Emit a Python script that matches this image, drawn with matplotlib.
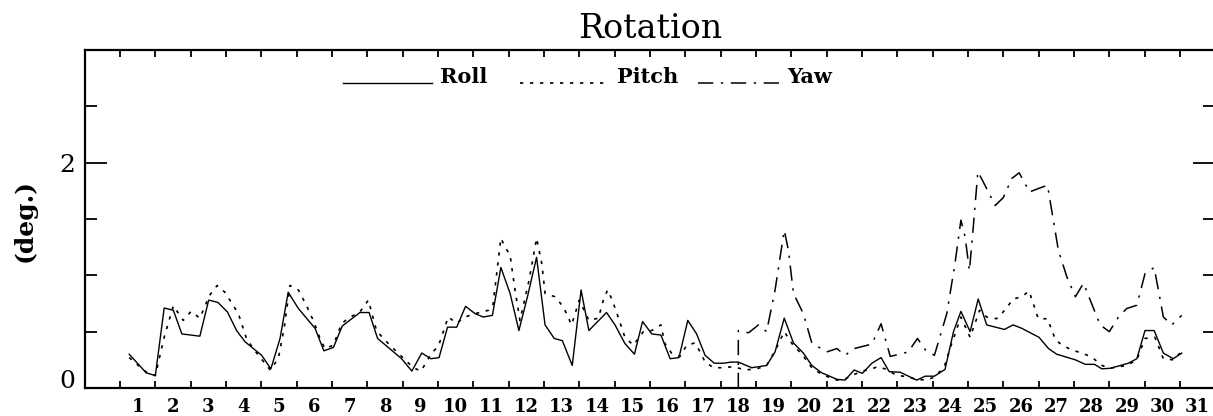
import numpy as np
import matplotlib
matplotlib.use("Agg")
import matplotlib.pyplot as plt

# readings taken off the plot: day of month vs rotation (deg.)
roll_day = [1.26, 1.74, 2.00, 2.25, 2.51, 2.75, 3.26, 3.51, 3.77, 4.04, 4.30, 4.54, 5.01,
            5.27, 5.53, 5.76, 6.05, 6.52, 6.77, 7.04, 7.29, 7.79, 8.05, 8.29, 8.97, 9.26,
            9.54, 9.80, 10.03, 10.27, 10.53, 10.78, 11.05, 11.28, 11.54, 11.78, 12.04, 12.29,
            12.54, 12.79, 13.03, 13.29, 13.52, 13.80, 14.05, 14.27, 14.77, 15.01, 15.29,
            15.56, 15.79, 16.05, 16.31, 16.57, 16.82, 17.07, 17.32, 17.56, 17.82, 18.08,
            18.29, 18.50, 18.88, 19.30, 19.54, 19.80, 20.06, 20.34, 20.58, 20.86, 21.29,
            21.52, 21.78, 22.01, 22.28, 22.54, 22.77, 23.08, 23.55, 23.79, 24.05, 24.35,
            24.59, 24.80, 25.06, 25.29, 25.53, 26.03, 26.28, 26.52, 27.01, 27.28, 27.51,
            28.04, 28.32, 28.58, 28.79, 29.02, 29.26, 29.54, 29.78, 30.01, 30.27, 30.53,
            30.81, 31.05]
roll_deg = [0.30, 0.135, 0.11, 0.71, 0.69, 0.48, 0.46, 0.78, 0.76, 0.675, 0.51, 0.41, 0.29,
            0.17, 0.44, 0.85, 0.705, 0.53, 0.33, 0.36, 0.55, 0.67, 0.67, 0.44, 0.26, 0.15,
            0.31, 0.26, 0.27, 0.54, 0.54, 0.725, 0.66, 0.63, 0.645, 1.07, 0.84, 0.51,
            0.82, 1.16, 0.56, 0.44, 0.42, 0.20, 0.87, 0.51, 0.67, 0.56, 0.395,
            0.30, 0.59, 0.48, 0.47, 0.26, 0.27, 0.60, 0.48, 0.29, 0.22, 0.22,
            0.23, 0.23, 0.18, 0.20, 0.32, 0.62, 0.40, 0.31, 0.20, 0.135, 0.077,
            0.07, 0.16, 0.13, 0.22, 0.27, 0.145, 0.14, 0.07, 0.105, 0.105, 0.165,
            0.50, 0.68, 0.50, 0.79, 0.56, 0.52, 0.56, 0.53, 0.45, 0.35, 0.30,
            0.25, 0.21, 0.21, 0.17, 0.175, 0.195, 0.22, 0.26, 0.51, 0.51, 0.31,
            0.26, 0.31]

pitch_day = [1.26, 1.52, 1.75, 2.00, 2.25, 2.51, 2.79, 3.01, 3.26, 3.53, 3.75, 3.97, 4.35,
             4.58, 4.77, 5.25, 5.48, 5.65, 5.81, 6.05, 6.28, 6.47, 6.66, 6.80, 7.04, 7.27,
             7.46, 7.79, 8.03, 8.26, 8.45, 8.69, 9.07, 9.30, 9.52, 9.65, 9.82, 10.01, 10.29,
             10.53, 10.76, 11.05, 11.43, 11.55, 11.78, 11.90, 12.04, 12.18, 12.32, 12.58,
             12.79, 12.94, 13.03, 13.31, 13.55, 13.78, 14.00, 14.27, 14.54, 14.68, 14.80,
             14.92, 15.10, 15.29, 15.53, 15.81, 16.05, 16.31, 16.42, 16.61, 16.85, 17.04,
             17.27, 17.42, 17.56, 17.80, 18.08, 18.36, 18.69, 19.02, 19.30, 19.54, 19.80,
             20.05, 20.30, 20.58, 20.86, 21.29, 21.52, 21.78, 22.01, 22.28, 22.45, 22.65,
             22.97, 23.25, 23.55, 23.83, 24.07, 24.33, 24.54, 24.80, 25.06, 25.33, 25.53,
             25.81, 26.04, 26.28, 26.52, 26.73, 26.99, 27.25, 27.48, 27.67, 27.95, 28.24,
             28.52, 28.79, 29.02, 29.49, 29.78, 30.01, 30.29, 30.53, 30.81, 31.00]
pitch_deg = [0.27, 0.20, 0.14, 0.11, 0.45, 0.73, 0.60, 0.68, 0.62, 0.82, 0.91, 0.85, 0.66,
             0.44, 0.35, 0.16, 0.26, 0.54, 0.91, 0.87, 0.73, 0.60, 0.44, 0.35, 0.38, 0.57,
             0.62, 0.675, 0.78, 0.51, 0.44, 0.365, 0.25, 0.18, 0.15, 0.22, 0.31, 0.37, 0.63,
             0.575, 0.63, 0.66, 0.69, 0.72, 1.33, 1.25, 1.18, 0.87, 0.60, 0.96,
             1.33, 1.10, 0.84, 0.81, 0.72, 0.56, 0.78, 0.60, 0.62, 0.78, 0.87,
             0.79, 0.63, 0.45, 0.38, 0.50, 0.51, 0.56, 0.395, 0.31, 0.28, 0.38,
             0.40, 0.32, 0.23, 0.18, 0.18, 0.19, 0.16, 0.17, 0.20, 0.33, 0.50,
             0.38, 0.30, 0.18, 0.12, 0.07, 0.08, 0.12, 0.15, 0.17, 0.19, 0.17,
             0.115, 0.10, 0.077, 0.07, 0.10, 0.19, 0.395, 0.63, 0.45, 0.69, 0.63,
             0.615, 0.69, 0.79, 0.81, 0.86, 0.615, 0.615, 0.425, 0.38, 0.335, 0.31,
             0.27, 0.20, 0.175, 0.20, 0.25, 0.44, 0.45, 0.26, 0.25, 0.31]

yaw_day = [18.50, 18.50, 18.79, 19.07, 19.30, 19.54, 19.80, 19.92, 20.06, 20.34, 20.58,
           21.00, 21.29, 21.52, 21.78, 22.28, 22.54, 22.80, 23.31, 23.57, 23.79, 24.05,
           24.40, 24.63, 24.80, 24.92, 25.04, 25.15, 25.28, 25.48, 25.77, 26.00, 26.24,
           26.45, 26.74, 26.99, 27.25, 27.56, 27.80, 28.04, 28.27, 28.74, 29.00, 29.26,
           29.49, 29.78, 30.01, 30.27, 30.53, 30.77, 31.05]
yaw_deg = [0.0, 0.51, 0.49, 0.56, 0.50, 0.87, 1.40, 1.22, 0.84, 0.66, 0.40,
           0.32, 0.35, 0.29, 0.35, 0.39, 0.57, 0.28, 0.32, 0.44, 0.34, 0.29,
           0.66, 1.10, 1.49, 1.34, 1.04, 1.43, 1.92, 1.80, 1.62, 1.69, 1.86,
           1.91, 1.74, 1.77, 1.80, 1.22, 0.985, 0.81, 0.93, 0.56, 0.50, 0.63,
           0.705, 0.735, 1.015, 1.07, 0.63, 0.56, 0.645]

days = list(range(1, 32))

plt.rcParams['font.family'] = 'DejaVu Serif'

pitch_ls = (0, (2, 4))
yaw_ls = (0, (10, 5, 1.5, 5))

fig = plt.figure(figsize=(12.13, 4.16), dpi=100)
ax = fig.add_axes([0.0698, 0.0673, 0.9321, 0.8125])

ax.plot(roll_day, roll_deg, color='black', lw=1.0, ls='-')
ax.plot(pitch_day, pitch_deg, color='black', lw=1.2, ls=pitch_ls)
ax.plot(yaw_day, yaw_deg, color='black', lw=1.1, ls=yaw_ls)

ax.set_xlim(0, 32)
ax.set_ylim(0, 3)

# tick marks on day boundaries, labels centred on each day
ax.set_xticks(days)
ax.set_xticklabels([])
ax.set_xticks([d + 0.5 for d in days], minor=True)
ax.set_xticklabels([str(d) for d in days], minor=True, fontweight='bold', fontsize=13)
ax.tick_params(axis='x', which='major', direction='in', top=True, bottom=True,
               length=5, width=1.3)
ax.tick_params(axis='x', which='minor', length=0, pad=7)

ax.set_yticks([0, 2])
ax.set_yticklabels(['0', '2'], fontsize=18)
ax.set_yticks([0.5, 1, 1.5, 2.5], minor=True)
ax.tick_params(axis='y', which='major', direction='in', left=True, right=True,
               length=16, width=1.3, pad=7)
ax.tick_params(axis='y', which='minor', direction='in', left=True, right=True,
               length=8.5, width=1.3)
# the "0" sits on the axis line rather than centred on it
ax.yaxis.get_major_ticks()[0].label1.set_verticalalignment('baseline')

for s in ax.spines.values():
    s.set_linewidth(1.6)

ax.set_title('Rotation', fontsize=24, pad=9)
fig.text(0.0202, 0.471, '(deg.)', rotation=90, fontsize=18, fontweight='bold',
         ha='center', va='center')

# hand-drawn key along the top, as in the original
key_y = 0.9024
ax.plot([0.2285, 0.3072], [key_y, key_y], transform=ax.transAxes, color='black', lw=1.0)
ax.text(0.3143, key_y, 'Roll', transform=ax.transAxes, fontsize=15, fontweight='bold',
        va='baseline')
ax.plot([0.3851, 0.4647], [key_y, key_y], transform=ax.transAxes, color='black', lw=1.2,
        ls=pitch_ls)
ax.text(0.4708, key_y, 'Pitch', transform=ax.transAxes, fontsize=15, fontweight='bold',
        va='baseline')
ax.plot([0.5425, 0.6150], [key_y, key_y], transform=ax.transAxes, color='black', lw=1.1,
        ls=yaw_ls)
ax.text(0.6212, key_y, 'Yaw', transform=ax.transAxes, fontsize=15, fontweight='bold',
        va='baseline')

fig.savefig('out.png', dpi=100)
